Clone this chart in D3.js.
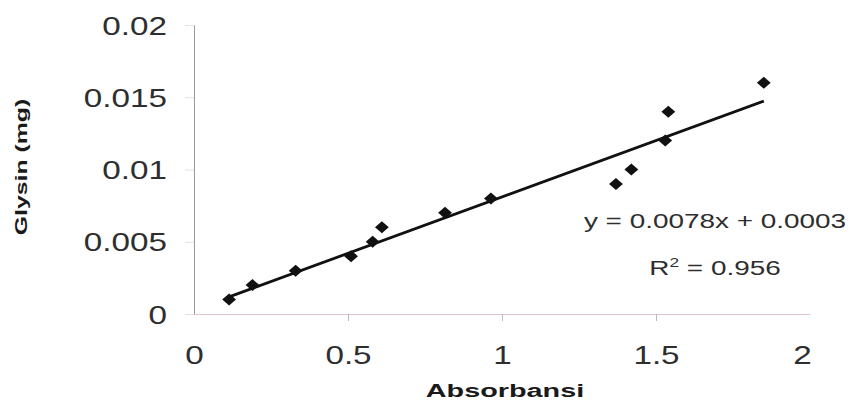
<!DOCTYPE html>
<html>
<head>
<meta charset="utf-8">
<script src="https://cdn.jsdelivr.net/npm/d3@7"></script>
<style>
  body { margin: 0; background: #fff; }
  svg { display: block; }
  text { font-family: "Liberation Sans", Arial, sans-serif; fill: #2e2e2e; }
</style>
</head>
<body>
<div id="chart"></div>
<script>
// data
const absorbansi = [0.114, 0.19, 0.33, 0.51, 0.58, 0.61, 0.815, 0.964, 1.37, 1.42, 1.53, 1.54, 1.85];
const glysin = [0.001, 0.002, 0.003, 0.004, 0.005, 0.006, 0.007, 0.008, 0.009, 0.010, 0.012, 0.014, 0.016];
const xTicks = [0, 0.5, 1, 1.5, 2];
const yTicks = [0, 0.005, 0.01, 0.015, 0.02];
const slope = 0.0078;
const intercept = 0.0003;
const rSquared = 0.956;

const w = 855, h = 402;
const stretch = 1.33; // the picture is stretched sideways

const svg = d3.select('#chart').append('svg')
  .attr('width', w)
  .attr('height', h);

const x = d3.scaleLinear().domain([0, 2]).range([194, 810]);
const y = d3.scaleLinear().domain([0, 0.02]).range([314, 25]);

// x-axis
const gx = svg.append('g')
  .attr('transform', `translate(0, ${y(0)})`)
  .call(d3.axisBottom(x).tickValues(xTicks).tickSize(7).tickSizeOuter(0).tickFormat(d => String(d)));
gx.select('.domain').attr('stroke', '#e3c6d3').attr('stroke-width', 1.2);
gx.selectAll('.tick line').attr('stroke', '#bbb');
gx.selectAll('.tick').filter(d => d === 0 || d === 2).select('line').remove();
gx.selectAll('.tick text')
  .attr('y', 50).attr('dy', 0)
  .attr('transform', `scale(${stretch},1)`)
  .style('font-size', '25px');
// last label sits a little inside the axis end
gx.selectAll('.tick').filter(d => d === 2).select('text').attr('x', -8 / stretch);

// y-axis
const gy = svg.append('g')
  .attr('transform', `translate(${x(0)}, 0)`)
  .call(d3.axisLeft(y).tickValues(yTicks).tickSize(9).tickSizeOuter(0).tickFormat(d => String(d)));
gy.select('.domain').attr('stroke', '#999').attr('stroke-width', 1);
gy.selectAll('.tick line').attr('stroke', '#e6dde2');
gy.selectAll('.tick text')
  .attr('x', -27 / stretch)
  .attr('dy', '0.36em')
  .attr('transform', `scale(${stretch},1)`)
  .style('font-size', '25px');

// trend line
const xMin = d3.min(absorbansi), xMax = d3.max(absorbansi);
const trend = [xMin, xMax].map(v => ({ t: v, v: slope * v + intercept }));
svg.append('path')
  .attr('fill', 'none')
  .attr('stroke', '#111')
  .attr('stroke-width', 2.8)
  .attr('d', d3.line().x(d => x(d.t)).y(d => y(d.v))(trend));

// markers
const diamond = d3.symbol().type(d3.symbolSquare).size(72);
svg.append('g').selectAll('path')
  .data(absorbansi.map((a, i) => [a, glysin[i]]))
  .join('path')
  .attr('fill', '#111')
  .attr('transform', d => `translate(${x(d[0])}, ${y(d[1])}) scale(1.15,1) rotate(45)`)
  .attr('d', diamond);

// equation
const eq = svg.append('g').attr('transform', 'translate(715, 0)');
eq.append('text')
  .attr('text-anchor', 'middle')
  .attr('transform', `translate(0,228) scale(${stretch},1)`)
  .style('font-size', '21px')
  .text(`y = ${slope}x + ${intercept.toFixed(4)}`);
const r2 = eq.append('text')
  .attr('text-anchor', 'middle')
  .attr('transform', `translate(0,275) scale(${stretch},1)`)
  .style('font-size', '21px');
r2.append('tspan').text('R');
r2.append('tspan').attr('dy', -8).style('font-size', '13px').text('2');
r2.append('tspan').attr('dy', 8).text(` = ${rSquared}`);

// axis titles
svg.append('text')
  .attr('text-anchor', 'middle')
  .attr('transform', 'translate(505, 397) scale(1.6,1)')
  .style('font-size', '18px')
  .style('font-weight', 'bold')
  .style('fill', '#1a1a1a')
  .text('Absorbansi');

svg.append('text')
  .attr('text-anchor', 'middle')
  .attr('transform', 'translate(27, 167) rotate(-90) scale(1.55,1)')
  .style('font-size', '16px')
  .style('font-weight', 'bold')
  .style('fill', '#1a1a1a')
  .text('Glysin (mg)');
</script>
</body>
</html>
